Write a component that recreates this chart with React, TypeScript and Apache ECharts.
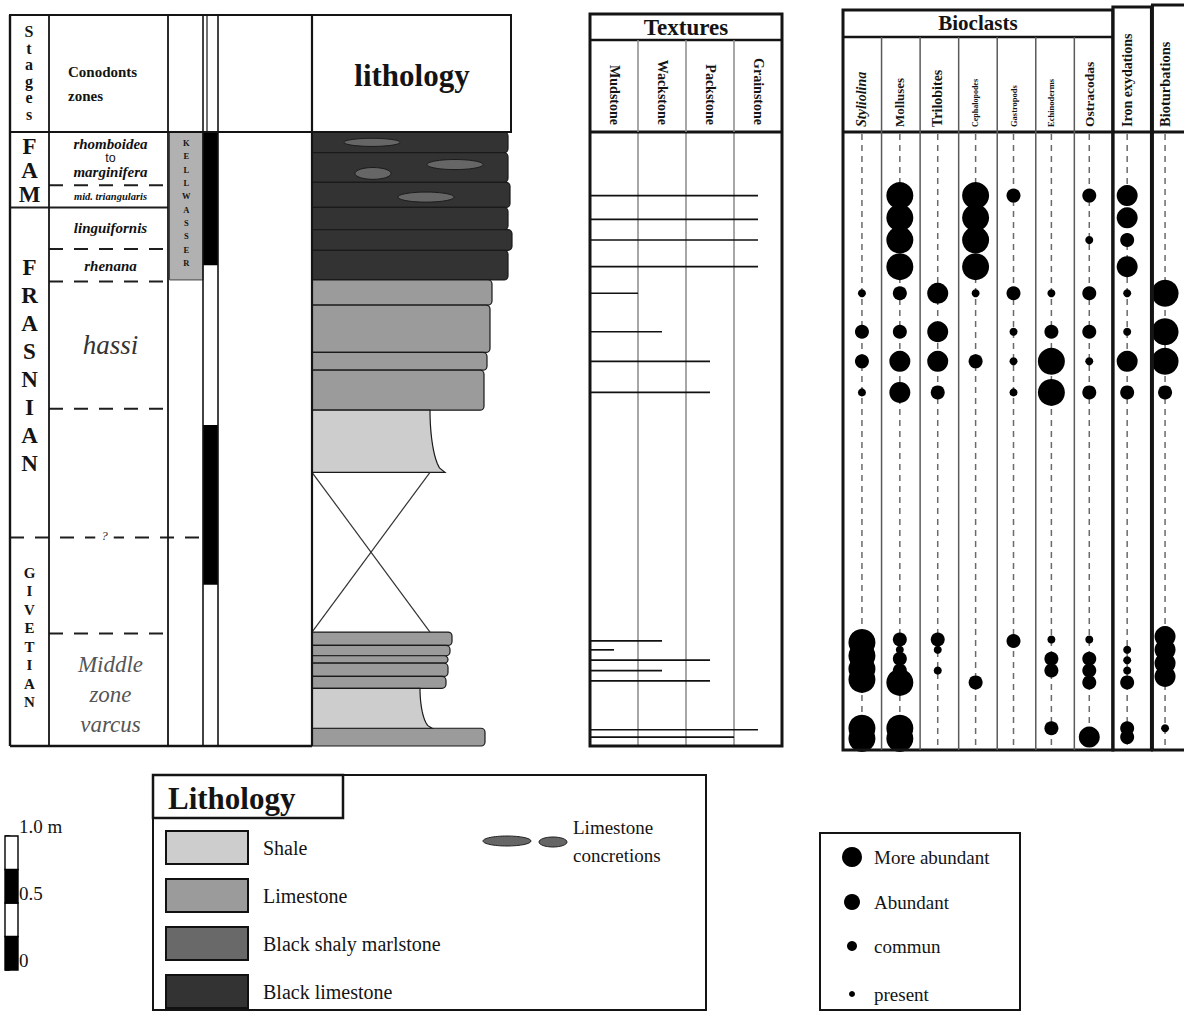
import React, { useEffect, useRef } from "react";
import * as echarts from "echarts";

// ---------------- data ----------------
const SECTION_TOP = 4.15; // metres above base of the logged section

const stageNames = ["FAM", "FRASNIAN", "GIVETIAN"];
const stageTops = [4.15, 3.64, 1.41];
const stageBases = [3.64, 1.41, 0];
const uncertainBoundaries = [1.41];

const zoneNames = ["rhomboidea\nto\nmarginifera", "mid. triangularis", "linguifornis", "rhenana", "hassi", "", "", "Middle\nzone\nvarcus"];
const zoneTops = [4.15, 3.79, 3.64, 3.36, 3.14, 2.28, 1.41, 0.76];
const zoneBases = [3.79, 3.64, 3.36, 3.14, 2.28, 1.41, 0.76, 0];

const kellwasserLabel = "KELLWASSER";
const kellwasserRange = [3.15, 4.15];
const darkBarRanges = [[3.25, 4.15], [1.09, 2.17]];

// beds: [base, top, extent]
const blackLimestoneBeds = [[4.01, 4.15, 98], [3.81, 4.01, 98], [3.64, 3.81, 99], [3.49, 3.64, 98], [3.35, 3.49, 100], [3.15, 3.35, 98]];
const limestoneBeds = [[2.98, 3.15, 90], [2.66, 2.98, 89], [2.54, 2.66, 87.5], [2.27, 2.54, 86], [0.68, 0.77, 70], [0.61, 0.68, 69], [0.56, 0.61, 68], [0.47, 0.56, 68], [0.39, 0.47, 67], [0, 0.12, 86.5]];
const marlstoneBeds: number[][] = [];
// shale: [base, top, extent at top, extent at base]
const shaleBeds = [[1.85, 2.27, 59, 66.5], [0.12, 0.39, 54, 60]];
const coveredIntervals = [[0.77, 1.85, 59]];
// concretions: [centre, height, length, thickness]
const concretions = [[30, 4.08, 28, 0.055], [71.5, 3.93, 28, 0.068], [30.5, 3.87, 18, 0.08], [57, 3.71, 28, 0.068]];

const textureNames = ["Mudstone", "Wackstone", "Packstone", "Grainstone"];
const textureLevels = [3.72, 3.56, 3.42, 3.24, 3.06, 2.8, 2.6, 2.39, 0.71, 0.65, 0.58, 0.51, 0.44, 0.11, 0.06];
const textureReach = [3.5, 3.5, 3.5, 3.5, 1.0, 1.5, 2.5, 2.5, 1.5, 0.5, 2.5, 1.5, 2.5, 3.5, 3.0];

const taxa = ["Styliolina", "Molluses", "Trilobites", "Cephalopodes", "Gastropods", "Echinoderms", "Ostracodas", "Iron exydations", "Bioturbations"];
const abundanceNames = ["present", "commun", "Abundant", "More abundant"]; // levels 1..4
// [height, abundance level]
const styliolina = [[3.06, 1], [2.8, 2], [2.6, 2], [2.39, 1], [0.7, 4], [0.61, 4], [0.52, 4], [0.45, 4], [0.12, 4], [0.05, 4]];
const molluses = [[3.72, 4], [3.57, 4], [3.42, 4], [3.24, 4], [3.06, 2], [2.8, 2], [2.6, 3], [2.39, 3], [0.72, 2], [0.65, 1], [0.59, 2], [0.51, 2], [0.43, 4], [0.12, 4], [0.05, 4]];
const trilobites = [[3.06, 3], [2.8, 3], [2.6, 3], [2.39, 2], [0.72, 2], [0.65, 1], [0.51, 1]];
const cephalopodes = [[3.72, 4], [3.57, 4], [3.42, 4], [3.24, 4], [3.06, 1], [2.6, 2], [0.43, 2]];
const gastropods = [[3.72, 2], [3.06, 2], [2.8, 1], [2.6, 1], [2.39, 1], [0.71, 2]];
const echinoderms = [[3.06, 1], [2.8, 2], [2.6, 4], [2.39, 4], [0.72, 1], [0.59, 2], [0.51, 2], [0.12, 2]];
const ostracodas = [[3.72, 2], [3.42, 1], [3.06, 2], [2.8, 2], [2.6, 1], [2.39, 2], [0.72, 1], [0.59, 2], [0.51, 2], [0.43, 2], [0.06, 3]];
const ironOxydations = [[3.72, 3], [3.57, 3], [3.42, 2], [3.24, 3], [3.06, 1], [2.8, 1], [2.6, 3], [2.39, 2], [0.65, 1], [0.58, 1], [0.51, 1], [0.43, 2], [0.12, 2], [0.06, 2]];
const bioturbations = [[3.06, 4], [2.8, 4], [2.6, 4], [2.39, 2], [0.74, 3], [0.65, 3], [0.56, 3], [0.47, 3], [0.12, 1]];
const taxonRecords = [styliolina, molluses, trilobites, cephalopodes, gastropods, echinoderms, ostracodas, ironOxydations, bioturbations];

const lithologyNames = ["Shale", "Limestone", "Black shaly marlstone", "Black limestone"];
const scaleTicks = [0, 0.5, 1];
const scaleLabels = ["0", "0.5", "1.0 m"];
const scaleSegments = [[0, 0.25], [0.25, 0.5], [0.5, 0.75], [0.75, 1]];

// ---------------- layout / style ----------------
const SERIF = "'Liberation Serif', 'Times New Roman', serif";
const SANS = "'Liberation Sans', Arial, sans-serif";
const INK = "#141414";
const COL_TOP = 132;
const COL_H = 614;
const STAGE = [0, 39];
const ZONE = [39, 158];
const KW = [158, 193];
const BAR = [193, 208];
const BIO_X = 843;
const BIO_W = 347;
const litColors: Record<string, string> = {
  Shale: "#cdcdcd",
  Limestone: "#9b9b9b",
  "Black shaly marlstone": "#696969",
  "Black limestone": "#333333",
};
const stageLabelStyle = [
  { size: 23, lh: 24, dy: 1 },
  { size: 23, lh: 28, dy: -7 },
  { size: 15, lh: 18.5, dy: -4 },
];
const zoneLabelStyle: any[] = [
  { size: 15, lh: 14, italic: true, bold: true, color: "#111", dy: -1 },
  { size: 10.5, lh: 12, italic: true, bold: true, color: "#111", dy: 0 },
  { size: 15, lh: 16, italic: true, bold: true, color: "#111", dy: 0 },
  { size: 15, lh: 16, italic: true, bold: true, color: "#111", dy: 1 },
  { size: 27, lh: 30, italic: true, bold: false, color: "#333", dy: 0 },
  null,
  null,
  { size: 23, lh: 30, italic: true, bold: false, color: "#555", dy: 5 },
];
const taxonLabelSize = [14, 13, 14, 8, 8.5, 8.5, 13.5, 14, 14.5];
const dotSizes = [8, 14, 21, 27];
const legendDot = [6, 10, 16, 20];
const legendRowY = [857, 902, 946, 994]; // More abundant, Abundant, commun, present

function txt(text: string, extra: any) {
  return {
    text,
    fill: INK,
    fontFamily: SERIF,
    align: "center",
    verticalAlign: "middle",
    textAlign: "center",
    textVerticalAlign: "middle",
    ...extra,
  };
}

function buildOption() {
  const line = (x1: number, y1: number, x2: number, y2: number, lw = 2, stroke = INK) => ({
    type: "line", z: 100, silent: true, shape: { x1, y1, x2, y2 }, style: { stroke, lineWidth: lw },
  });
  const rect = (x: number, y: number, w: number, h: number, lw = 2) => ({
    type: "rect", z: 100, silent: true, shape: { x, y, width: w, height: h }, style: { fill: "none", stroke: INK, lineWidth: lw },
  });
  const text = (x: number, y: number, t: string, st: any) => ({ type: "text", z: 100, silent: true, x, y, style: txt(t, st) });

  const bioCol = BIO_W / taxa.length;
  const graphic: any[] = [
    // left block frame
    rect(10, 15, 501, 117, 2),
    line(10, 15, 10, 746, 2.4),
    line(49, 15, 49, 746, 1.8),
    line(168, 15, 168, 746, 1.8),
    line(203, 15, 203, 746, 1.6),
    line(207, 15, 207, 132, 1.2),
    line(218, 15, 218, 746, 1.6),
    line(312, 15, 312, 746, 2.2),
    line(10, 746, 312, 746, 2.6),
    text(29, 73, "S\nt\na\ng\ne\ns", { fontWeight: "bold", fontSize: 16, lineHeight: 16.5 }),
    text(68, 84, "Conodonts\nzones", { fontWeight: "bold", fontSize: 15, lineHeight: 24, align: "left", textAlign: "left" }),
    text(412, 75, "lithology", { fontWeight: "bold", fontSize: 31 }),
    // textures frame
    rect(590, 14, 192, 732, 3),
    line(590, 40, 782, 40, 2.5),
    line(590, 132, 782, 132, 3),
    ...[1, 2, 3].map((k) => line(590 + k * 48, 40, 590 + k * 48, 132, 1.5, "#8a8a8a")),
    text(686, 27, "Textures", { fontWeight: "bold", fontSize: 23 }),
    // bioclasts frame
    rect(BIO_X, 10, bioCol * 7, 740, 3),
    line(BIO_X, 37, BIO_X + bioCol * 7, 37, 2.5),
    line(BIO_X, 132, 1190, 132, 3),
    ...[1, 2, 3, 4, 5, 6].map((k) => line(BIO_X + k * bioCol, 37, BIO_X + k * bioCol, 750, 1.5, "#5a5a5a")),
    rect(BIO_X + bioCol * 7, 7, bioCol, 743, 3),
    rect(BIO_X + bioCol * 8 + 1, 5, 40, 745, 3),
    text(BIO_X + (bioCol * 7) / 2, 23, "Bioclasts", { fontWeight: "bold", fontSize: 21 }),
    // lithology legend
    rect(153, 775, 553, 235, 2),
    rect(153, 775, 190, 43, 2.5),
    text(168, 798, "Lithology", { fontWeight: "bold", fontSize: 31, align: "left", textAlign: "left" }),
    { type: "ellipse", z: 100, silent: true, shape: { cx: 507, cy: 841, rx: 24, ry: 5 }, style: { fill: "#666", stroke: "#222", lineWidth: 1 } },
    { type: "ellipse", z: 100, silent: true, shape: { cx: 553, cy: 842, rx: 14, ry: 5 }, style: { fill: "#666", stroke: "#222", lineWidth: 1 } },
    text(573, 841, "Limestone\nconcretions", { fontSize: 19, lineHeight: 28, align: "left", textAlign: "left" }),
    // abundance legend frame
    rect(820, 833, 200, 177, 2),
  ];

  const leftSeries = (name: string, data: any[], renderItem: any, z = 3) => ({
    type: "custom", name, xAxisIndex: 0, yAxisIndex: 0, data, renderItem, z, silent: true,
  });

  const stageSeries = leftSeries("stages", stageNames.map((_, i) => [0, stageTops[i]]), (params: any, api: any) => {
    const i = params.dataIndex;
    const yT = api.coord([0, stageTops[i]])[1];
    const yB = api.coord([0, stageBases[i]])[1];
    const cx = api.coord([(STAGE[0] + STAGE[1]) / 2, 0])[0];
    const st = stageLabelStyle[i];
    return {
      type: "text", x: cx, y: (yT + yB) / 2 + st.dy,
      style: txt(stageNames[i].split("").join("\n"), { fontWeight: "bold", fontSize: st.size, lineHeight: st.lh }),
    };
  });

  const zoneSeries = leftSeries("zones", zoneNames.map((_, i) => [0, zoneTops[i]]), (params: any, api: any) => {
    const i = params.dataIndex;
    const st = zoneLabelStyle[i];
    if (!zoneNames[i] || !st) return { type: "group", children: [] };
    const yT = api.coord([0, zoneTops[i]])[1];
    const yB = api.coord([0, zoneBases[i]])[1];
    const cx = api.coord([(ZONE[0] + ZONE[1]) / 2 + 2, 0])[0];
    const lines = zoneNames[i].split("\n");
    const t = lines.map((l) => (l === "to" ? `{n|${l}}` : `{m|${l}}`)).join("\n");
    return {
      type: "text", x: cx, y: (yT + yB) / 2 + st.dy,
      style: txt(t, {
        rich: {
          m: { fontFamily: SERIF, fontSize: st.size, lineHeight: st.lh, fontStyle: st.italic ? "italic" : "normal", fontWeight: st.bold ? "bold" : "normal", fill: st.color },
          n: { fontFamily: SANS, fontSize: 12.5, lineHeight: st.lh, fill: "#111" },
        },
      }),
    };
  });

  const zoneBoundaries = zoneBases.filter((h) => h > 0);
  const boundarySeries = leftSeries("boundaries", zoneBoundaries.map((h) => [0, h]), (params: any, api: any) => {
    const h = zoneBoundaries[params.dataIndex];
    const isStage = stageBases.includes(h);
    const uncertain = uncertainBoundaries.includes(h);
    const x0 = isStage ? STAGE[0] : ZONE[0];
    const x1 = uncertain ? KW[1] : ZONE[1];
    const p0 = api.coord([x0, h]);
    const p1 = api.coord([x1, h]);
    const style: any = { stroke: "#1e1e1e", lineWidth: 2 };
    if (!isStage || uncertain) style.lineDash = [14, 11];
    const children: any[] = [{ type: "line", shape: { x1: p0[0], y1: p0[1], x2: p1[0], y2: p1[1] }, style }];
    if (uncertain) {
      children.push({
        type: "text", x: api.coord([(ZONE[0] + ZONE[1]) / 2 - 4, h])[0], y: p0[1] - 2,
        style: txt("?", { fontSize: 13, fontStyle: "italic", fill: "#333", backgroundColor: "#fff", padding: [0, 6] }),
      });
    }
    return { type: "group", children };
  });

  const kwSeries = leftSeries("Kellwasser", [[0, kellwasserRange[1]]], (params: any, api: any) => {
    const p0 = api.coord([KW[0] + 1.5, kellwasserRange[1]]);
    const p1 = api.coord([KW[1], kellwasserRange[0]]);
    return {
      type: "group",
      children: [
        { type: "rect", shape: { x: p0[0], y: p0[1], width: p1[0] - p0[0], height: p1[1] - p0[1] }, style: { fill: "#b1b1b1", stroke: "#444", lineWidth: 1 } },
        {
          type: "text", x: (p0[0] + p1[0]) / 2, y: (p0[1] + p1[1]) / 2 - 3,
          style: txt(kellwasserLabel.split("").join("\n"), { fontWeight: "bold", fontSize: 8.5, lineHeight: 13.3 }),
        },
      ],
    };
  }, 2);

  const barSeries = leftSeries("dark intervals", darkBarRanges.map((r) => [0, r[1]]), (params: any, api: any) => {
    const r = darkBarRanges[params.dataIndex];
    const p0 = api.coord([BAR[0], r[1]]);
    const p1 = api.coord([BAR[1], r[0]]);
    return { type: "rect", shape: { x: p0[0], y: p0[1], width: p1[0] - p0[0], height: p1[1] - p0[1] }, style: { fill: "#000" } };
  }, 2);

  const bedRender = (color: string) => (params: any, api: any) => {
    const b = api.value(0), t = api.value(1), e = api.value(2);
    const p0 = api.coord([0, t]);
    const p1 = api.coord([e, b]);
    return {
      type: "rect",
      shape: { x: p0[0], y: p0[1], width: p1[0] - p0[0], height: p1[1] - p0[1], r: [0, 4, 4, 0] },
      style: { fill: color, stroke: "#1a1a1a", lineWidth: 1.2 },
    };
  };
  const bedSeries = (name: string, data: number[][]) => ({
    type: "custom", name, xAxisIndex: 1, yAxisIndex: 1, data, renderItem: bedRender(litColors[name]),
    itemStyle: { color: litColors[name] }, z: 2, silent: true,
  });
  const shaleSeries = {
    type: "custom", name: "Shale", xAxisIndex: 1, yAxisIndex: 1, data: shaleBeds, itemStyle: { color: litColors.Shale }, z: 2, silent: true,
    renderItem: (params: any, api: any) => {
      const b = api.value(0), t = api.value(1), eT = api.value(2), eB = api.value(3);
      const pts: number[][] = [api.coord([0, t]), api.coord([eT, t])];
      const n = 14;
      for (let k = 1; k <= n; k++) {
        const s = k / n;
        const x = eT + (eB - eT) * (1 - Math.sqrt(1 - s * s));
        pts.push(api.coord([x, t - (t - b) * s]));
      }
      pts.push(api.coord([0, b]));
      return { type: "polygon", shape: { points: pts }, style: { fill: litColors.Shale, stroke: "#1a1a1a", lineWidth: 1.2 } };
    },
  };
  const coveredSeries = {
    type: "custom", name: "covered", xAxisIndex: 1, yAxisIndex: 1, data: coveredIntervals, z: 2, silent: true,
    renderItem: (params: any, api: any) => {
      const b = api.value(0), t = api.value(1), w = api.value(2);
      const a = api.coord([0, t]), c = api.coord([w, b]);
      const st = { stroke: "#333", lineWidth: 1.2 };
      return {
        type: "group",
        children: [
          { type: "line", shape: { x1: a[0], y1: a[1], x2: c[0], y2: c[1] }, style: st },
          { type: "line", shape: { x1: c[0], y1: a[1], x2: a[0], y2: c[1] }, style: st },
        ],
      };
    },
  };
  const concretionSeries = {
    type: "custom", name: "Limestone concretions", xAxisIndex: 1, yAxisIndex: 1, data: concretions, z: 4, silent: true,
    renderItem: (params: any, api: any) => {
      const c = api.coord([api.value(0), api.value(1)]);
      const sz = api.size([api.value(2), api.value(3)]);
      return { type: "ellipse", shape: { cx: c[0], cy: c[1], rx: sz[0] / 2, ry: sz[1] / 2 }, style: { fill: "#666", stroke: "#1a1a1a", lineWidth: 1 } };
    },
  };

  const textureSeries = {
    type: "custom", name: "textures", xAxisIndex: 2, yAxisIndex: 2, data: textureLevels.map((h, i) => [textureReach[i], h]), z: 3, silent: true,
    renderItem: (params: any, api: any) => {
      const h = api.value(1);
      const a = api.coord([0, h]);
      const b = api.coord([api.value(0), h]);
      return { type: "line", shape: { x1: a[0], y1: a[1], x2: b[0], y2: b[1] }, style: { stroke: "#111", lineWidth: 1.7 } };
    },
  };

  const dashSeries = {
    type: "custom", name: "guides", xAxisIndex: 4, yAxisIndex: 3, data: taxa.map((_, i) => [i, 0]), z: 2, silent: true,
    renderItem: (params: any, api: any) => {
      const i = params.dataIndex;
      const top = api.coord([i, SECTION_TOP]);
      const bot = api.coord([i, 0]);
      return { type: "line", shape: { x1: top[0], y1: top[1] + 2, x2: bot[0], y2: bot[1] + 4 }, style: { stroke: "#6a6a6a", lineWidth: 1.5, lineDash: [6, 5] } };
    },
  };

  const dotSeries = abundanceNames.map((name, li) => {
    const data: number[][] = [];
    taxonRecords.forEach((rec, ti) => rec.forEach(([h, lv]) => { if (lv === li + 1) data.push([ti, h]); }));
    return {
      type: "scatter", name, xAxisIndex: 4, yAxisIndex: 3, data, symbol: "circle", symbolSize: dotSizes[li],
      itemStyle: { color: "#000", opacity: 1 }, z: 5, silent: true,
    };
  });

  const scaleSeries = {
    type: "custom", name: "scale", xAxisIndex: 5, yAxisIndex: 4, data: scaleSegments, z: 3, silent: true,
    renderItem: (params: any, api: any) => {
      const a = api.coord([0, api.value(1)]);
      const b = api.coord([1, api.value(0)]);
      return {
        type: "rect", shape: { x: a[0], y: a[1], width: b[0] - a[0], height: b[1] - a[1] },
        style: { fill: params.dataIndex % 2 === 0 ? "#000" : "#fff", stroke: "#000", lineWidth: 1.4 },
      };
    },
  };

  const hiddenY = (g: number) => ({ type: "value", gridIndex: g, min: 0, max: SECTION_TOP, show: false });
  const rich: any = {};
  taxa.forEach((_, i) => {
    rich[`t${i}`] = { fontFamily: SERIF, fontWeight: "bold", fontSize: taxonLabelSize[i], fontStyle: i === 0 ? "italic" : "normal", color: INK };
  });

  const abundanceLegends = [3, 2, 1, 0].map((li, k) => {
    const w = legendDot[li];
    return {
      data: [abundanceNames[li]], orient: "vertical", left: 852 - w / 2, top: legendRowY[k] - Math.max(w, 20) / 2,
      height: 40, padding: 0, itemWidth: w, itemHeight: w, icon: "circle", selectedMode: false,
      textStyle: { fontFamily: SERIF, fontSize: 19, color: INK, lineHeight: 20, padding: [0, 0, 0, 874 - (852 + w / 2 + 5)] },
    };
  });

  return {
    animation: false,
    backgroundColor: "#fff",
    textStyle: { fontFamily: SERIF },
    grid: [
      { left: 10, top: COL_TOP, width: 208, height: COL_H },
      { left: 312, top: COL_TOP, width: 200, height: COL_H },
      { left: 590, top: COL_TOP, width: 192, height: COL_H },
      { left: BIO_X, top: COL_TOP, width: BIO_W, height: COL_H },
      { left: 5, top: 836, width: 13, height: 134 },
    ],
    xAxis: [
      { type: "value", gridIndex: 0, min: 0, max: 208, show: false },
      { type: "value", gridIndex: 1, min: 0, max: 100, show: false },
      {
        type: "value", gridIndex: 2, min: 0, max: 4, interval: 1,
        axisLine: { show: false }, axisTick: { show: false }, axisLabel: { show: false },
        splitLine: { show: true, lineStyle: { color: "#8a8a8a", width: 1.5 } },
      },
      {
        type: "category", gridIndex: 2, position: "top", data: textureNames,
        axisLine: { show: false }, axisTick: { show: false }, splitLine: { show: false },
        axisLabel: { rotate: 90, interval: 0, margin: 7, fontFamily: SERIF, fontWeight: "bold", fontSize: 14, color: INK },
      },
      {
        type: "category", gridIndex: 3, position: "top", data: taxa,
        axisLine: { show: false }, axisTick: { show: false }, splitLine: { show: false },
        axisLabel: { rotate: 90, interval: 0, margin: 5, formatter: (v: string, i: number) => `{t${i}|${v}}`, rich },
      },
      { type: "value", gridIndex: 4, min: 0, max: 1, show: false },
    ],
    yAxis: [
      hiddenY(0), hiddenY(1), hiddenY(2), hiddenY(3),
      {
        type: "value", gridIndex: 4, min: 0, max: 1, interval: 0.5, position: "right",
        axisLine: { show: false }, splitLine: { show: false },
        axisTick: { show: true, length: 5, lineStyle: { color: "#000", width: 1.5 } },
        axisLabel: {
          margin: 1, fontFamily: SERIF, fontSize: 19, color: INK, verticalAlign: "bottom", lineHeight: 19,
          formatter: (v: number) => scaleLabels[scaleTicks.indexOf(v)] ?? "",
        },
      },
    ],
    legend: [
      {
        data: lithologyNames, orient: "vertical", left: 165, top: 830, height: 230, padding: 0, itemWidth: 82, itemHeight: 33, itemGap: 13,
        icon: "rect", selectedMode: false, itemStyle: { borderColor: "#111", borderWidth: 2 },
        textStyle: { fontFamily: SERIF, fontSize: 20, color: INK, padding: [0, 0, 0, 10] },
      },
      ...abundanceLegends,
    ],
    graphic,
    series: [
      kwSeries,
      barSeries,
      stageSeries,
      zoneSeries,
      boundarySeries,
      bedSeries("Black limestone", blackLimestoneBeds),
      bedSeries("Limestone", limestoneBeds),
      bedSeries("Black shaly marlstone", marlstoneBeds),
      shaleSeries,
      coveredSeries,
      concretionSeries,
      textureSeries,
      dashSeries,
      ...dotSeries,
      scaleSeries,
    ],
  };
}

export default function App() {
  const ref = useRef<HTMLDivElement>(null);
  useEffect(() => {
    if (!ref.current) return;
    const chart = echarts.init(ref.current, null, { renderer: "svg" });
    chart.setOption(buildOption() as any);
    return () => chart.dispose();
  }, []);
  return (
    <div
      ref={ref}
      style={{ position: "absolute", left: 0, top: 0, width: 1184, height: 1012, background: "#fff" }}
    />
  );
}
